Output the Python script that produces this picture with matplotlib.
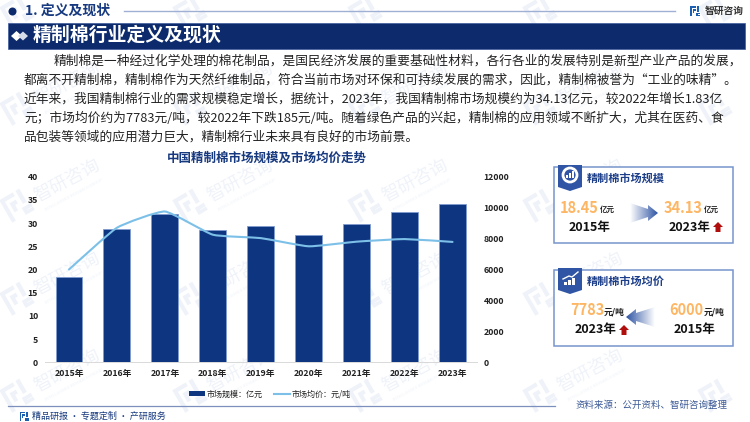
import numpy as np
import matplotlib
matplotlib.use("Agg")
import matplotlib.pyplot as plt
from matplotlib.lines import Line2D
from matplotlib.patches import Circle, Patch, PathPatch, Polygon, Rectangle
from matplotlib.path import Path
from matplotlib.transforms import Affine2D

plt.rcParams['font.family'] = ['Noto Sans CJK SC', 'DejaVu Sans']

years = ['2015年', '2016年', '2017年', '2018年', '2019年', '2020年', '2021年', '2022年', '2023年']
market_size = [18.45, 28.8, 32.0, 28.6, 29.3, 27.4, 29.7, 32.3, 34.13]
market_price = [6000, 8700, 9750, 8250, 8030, 7500, 7800, 7968, 7783]
left_ticks = [0, 5, 10, 15, 20, 25, 30, 35, 40]
right_ticks = [0, 2000, 4000, 6000, 8000, 10000, 12000]

body_lines = [
    '精制棉是一种经过化学处理的棉花制品，是国民经济发展的重要基础性材料，各行各业的发展特别是新型产业产品的发展，',
    '都离不开精制棉，精制棉作为天然纤维制品，符合当前市场对环保和可持续发展的需求，因此，精制棉被誉为“工业的味精”。',
    '近年来，我国精制棉行业的需求规模稳定增长，据统计，2023年，我国精制棉市场规模约为34.13亿元，较2022年增长1.83亿',
    '元；市场均价约为7783元/吨，较2022年下跌185元/吨。随着绿色产品的兴起，精制棉的应用领域不断扩大，尤其在医药、食',
    '品包装等领域的应用潜力巨大，精制棉行业未来具有良好的市场前景。',
]

NAVY = '#0c2a6c'
BAR = '#0e3580'
TITLE = '#17397f'
ORANGE = '#fdb664'
MARK = '#eff3f9'

W, H = 750, 422
fig = plt.figure(figsize=(W / 100, H / 100), dpi=100, facecolor='white')


def pixel_axes(z):
    a = fig.add_axes([0, 0, 1, 1], zorder=z)
    a.set_xlim(0, W)
    a.set_ylim(H, 0)
    a.axis('off')
    return a


# watermark behind everything
bg = pixel_axes(0)


def logo(a, x, y, s, color, angle=0, z=1):
    # little tile logo, s = full height in pixels
    tr = Affine2D().scale(s / 10).rotate_deg(angle).translate(x, y) + a.transData
    shapes = [
        [(-5, -5), (1, -5), (1, -3.4), (-3.4, -3.4), (-3.4, 5), (-5, 5)],
        [(-2.2, -2), (0.6, -2), (0.6, -0.4), (-0.6, -0.4), (-0.6, 2), (-2.2, 2)],
        [(2.2, -5), (3.9, -5), (3.9, 0.8), (2.2, 0.8)],
        [(1, 1.9), (5, 1.9), (5, 3.4), (2.5, 3.4), (2.5, 3.6), (5, 3.6), (5, 5), (1, 5)],
    ]
    for pts in shapes:
        a.add_patch(Polygon(pts, closed=True, fc=color, ec='none', transform=tr, zorder=z))


for lx in [17, 190, 365, 540, 715]:
    for ly in [12, 108, 205, 298, 395]:
        logo(bg, lx, ly, 26, MARK, angle=-30)
        if lx < 700 and ly > 50:
            bg.text(lx + 50, ly - 24, '智研咨询', fontsize=13, color=MARK, rotation=28,
                    rotation_mode='anchor', ha='center', va='center')
            bg.text(lx + 57, ly - 10, 'INTELLIGENCE RESEARCH GROUP', fontsize=3, color=MARK,
                    rotation=28, rotation_mode='anchor', ha='center', va='center')

# chart
ax = fig.add_axes([45 / W, 1 - 362.3 / H, 431.5 / W, 185.6 / H], zorder=1)
ax.patch.set_alpha(0)
x = np.arange(len(years))
ax.bar(x, market_size, width=0.56, color=BAR, edgecolor='#7f9ccf', linewidth=0.6)
ax.set_xlim(-0.5, 8.5)
ax.set_ylim(0, 40)
ax.set_xticks(x)
ax.set_xticklabels(years, fontsize=6.3, color='#222222', fontweight='bold')
ax.set_yticks(left_ticks)
ax.set_yticklabels(left_ticks, fontsize=6.3, color='#222222', fontweight='bold')
ax.tick_params(axis='y', length=0, pad=5)
ax.tick_params(axis='x', length=0, pad=5)
for s in ['top', 'left', 'right']:
    ax.spines[s].set_visible(False)
ax.spines['bottom'].set_color('#d9d9d9')
ax.spines['bottom'].set_linewidth(0.7)

ax2 = ax.twinx()
ax2.patch.set_alpha(0)
ax2.set_ylim(0, 12000)
ax2.set_yticks(right_ticks)
ax2.set_yticklabels(right_ticks, fontsize=6.3, color='#222222', fontweight='bold')
ax2.tick_params(axis='y', length=0, pad=5)
for s in ax2.spines.values():
    s.set_visible(False)

# smoothed price line, bezier handles taken from the neighbouring points
pts = np.column_stack([x, market_price]).astype(float)
verts = [pts[0]]
codes = [Path.MOVETO]
for i in range(len(pts) - 1):
    prev_p = pts[max(i - 1, 0)]
    next_p = pts[min(i + 2, len(pts) - 1)]
    verts += [pts[i] + (pts[i + 1] - prev_p) / 14, pts[i + 1] - (next_p - pts[i]) / 14, pts[i + 1]]
    codes += [Path.CURVE4, Path.CURVE4, Path.CURVE4]
ax2.add_patch(PathPatch(Path(verts, codes), fc='none', ec='#7cc0e8', lw=1.5, capstyle='round'))

fig.legend(
    handles=[Patch(fc=BAR, ec='none', label='市场规模：亿元'),
             Line2D([0], [0], color='#7cc0e8', lw=1.5, label='市场均价：元/吨')],
    ncol=2, frameon=False, fontsize=5.8, loc='center', bbox_to_anchor=(270 / W, 1 - 394 / H),
    handlelength=2.0, handleheight=0.5, columnspacing=1.4, handletextpad=0.2, labelcolor='#222222')

# everything else
top = pixel_axes(2)
top.add_patch(Circle((12.5, 11.5), 4, fc=NAVY, ec='none'))
top.text(25, 11, '1. 定义及现状', fontsize=10, fontweight='bold', color=TITLE, ha='left', va='center')
top.plot([124, 675], [10.5, 10.5], color='#9fb0d4', lw=1)
logo(top, 695, 11, 10, '#1c5fb0')
top.text(705, 10.5, '智研咨询', fontsize=7, fontweight='bold', color='#333333', ha='left', va='center')

top.add_patch(Rectangle((8, 23), 737, 26, fc=NAVY, ec='#3d5a9c', lw=0.5))
top.add_patch(Polygon([(11, 36), (16.5, 31), (22, 36), (16.5, 41)], fc='white', ec='none'))
top.add_patch(Polygon([(18, 36), (23, 31.5), (28, 36), (23, 40.5)], fc='#d5dcea', ec='none'))
top.text(33, 35.5, '精制棉行业定义及现状', fontsize=13.6, fontweight='bold', color='white', ha='left', va='center')

for i, line in enumerate(body_lines):
    top.text(54 if i == 0 else 24, 61 + i * 19, line, fontsize=9.15, color='#222222', ha='left', va='center')

top.text(267, 158, '中国精制棉市场规模及市场均价走势', fontsize=9, fontweight='bold', color=TITLE, ha='center', va='center')

top.plot([8, 555], [405.5, 405.5], color='#7d90bd', lw=0.9)
logo(top, 24, 416, 9, '#1c5fb0')
top.text(32, 416, '精品研报 · 专题定制 · 产研服务', fontsize=6.5, color=TITLE, ha='left', va='center')
top.text(576, 405, '资料来源：公开资料、智研咨询整理', fontsize=6.8, color='#3c5a96', ha='left', va='center')


def card(y0, y1, title):
    top.add_patch(Rectangle((554, y0), 179, y1 - y0, fc='white', ec='#7694cb', lw=1.1))
    top.add_patch(Polygon([(558, y0 - 2), (582, y0 - 2), (582, y0 + 20), (570, y0 + 24), (558, y0 + 20)],
                          fc='#2f55a4', ec='none'))
    top.text(587, y0 + 11, title, fontsize=8, fontweight='bold', color='#1d3f8a', ha='left', va='center')


def up_arrow(cx, cy):
    top.add_patch(Polygon([(cx - 5, cy), (cx, cy - 5), (cx + 5, cy), (cx + 2.5, cy), (cx + 2.5, cy + 5),
                           (cx - 2.5, cy + 5), (cx - 2.5, cy)], fc='#b00d0d', ec='none'))


def grad_arrow(xs, tip, cy):
    # xs = tail end, tip = arrow point, wide tail narrowing into the head
    d = 1 if tip > xs else -1
    neck = tip - d * 10
    poly = [(xs, cy - 10), (neck, cy - 4), (neck, cy - 8), (tip, cy), (neck, cy + 8), (neck, cy + 4), (xs, cy + 10)]
    g = np.linspace(0, 1, 64).reshape(1, -1)
    c0 = np.array([1.0, 1.0, 1.0])
    c1 = np.array([0.18, 0.33, 0.64])
    img = (c0 + (c1 - c0) * g[..., None])
    left, right = min(xs, tip), max(xs, tip)
    im = top.imshow(img if d > 0 else img[:, ::-1], extent=(left, right, cy + 12, cy - 12), aspect='auto', zorder=3)
    clip = Polygon(poly, closed=True, transform=top.transData, fc='none', ec='none')
    top.add_patch(clip)
    im.set_clip_path(clip)


card(167, 243, '精制棉市场规模')
top.add_patch(Circle((570, 175), 7, fc='none', ec='white', lw=2))
top.add_patch(Rectangle((566, 175), 2, 3, fc='white'))
top.add_patch(Rectangle((569, 173), 2, 5, fc='white'))
top.add_patch(Rectangle((572, 171), 2, 7, fc='white'))

top.text(560, 208, '18.45', fontsize=10.5, fontweight='bold', color=ORANGE, ha='left', va='center')
top.text(600, 209, '亿元', fontsize=5.4, fontweight='bold', color='#222222', ha='left', va='center')
top.text(569, 227, '2015年', fontsize=9, fontweight='bold', color='#111111', ha='left', va='center')
grad_arrow(630, 658, 213)
top.text(664, 208, '34.13', fontsize=10.5, fontweight='bold', color=ORANGE, ha='left', va='center')
top.text(704, 209, '亿元', fontsize=5.4, fontweight='bold', color='#222222', ha='left', va='center')
top.text(669, 227, '2023年', fontsize=9, fontweight='bold', color='#111111', ha='left', va='center')
up_arrow(718, 227)

card(270, 346, '精制棉市场均价')
for bx, bh in [(564, 3), (568, 5), (572, 7)]:
    top.add_patch(Rectangle((bx, 285 - bh), 2.5, bh, fc='white'))
top.plot([563, 569, 572, 578], [279, 276, 277, 272], color='white', lw=1)

top.text(570, 310, '7783', fontsize=10.5, fontweight='bold', color=ORANGE, ha='left', va='center')
top.text(604, 312, '元/吨', fontsize=6.3, fontweight='bold', color='#222222', ha='left', va='center')
top.text(575, 330, '2023年', fontsize=9, fontweight='bold', color='#111111', ha='left', va='center')
up_arrow(624, 330)
grad_arrow(655, 626, 317)
top.text(669, 310, '6000', fontsize=10.5, fontweight='bold', color=ORANGE, ha='left', va='center')
top.text(704, 312, '元/吨', fontsize=6.3, fontweight='bold', color='#222222', ha='left', va='center')
top.text(674, 330, '2015年', fontsize=9, fontweight='bold', color='#111111', ha='left', va='center')

top.set_xlim(0, W)
top.set_ylim(H, 0)

fig.savefig('out.png', dpi=100)
